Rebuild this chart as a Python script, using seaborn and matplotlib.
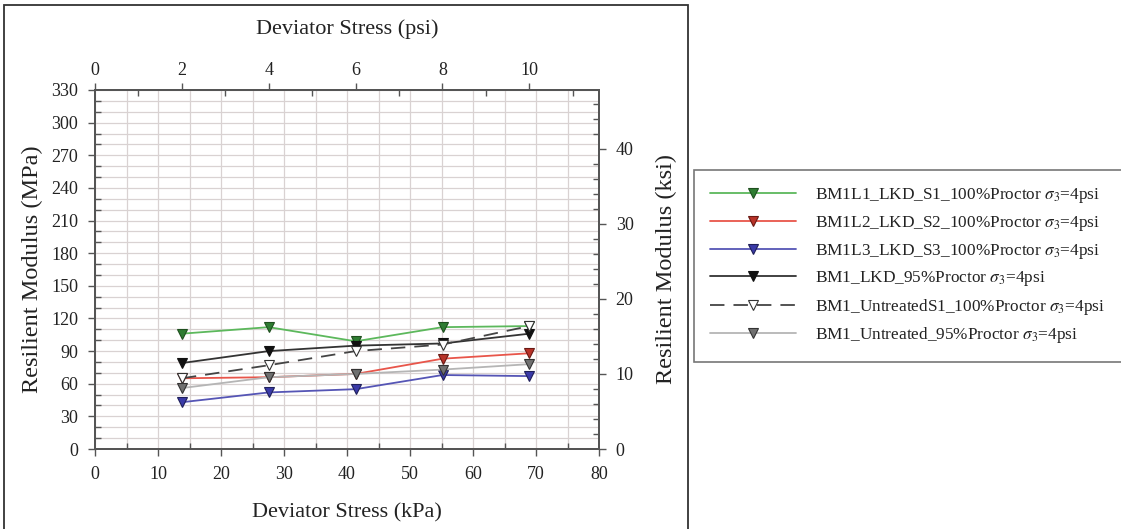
import numpy as np
import pandas as pd
import matplotlib
matplotlib.use("Agg")
import matplotlib.pyplot as plt
from matplotlib.patches import Rectangle
from matplotlib.ticker import MultipleLocator
import seaborn as sns

# ---- data ----
stress_kpa = [13.79, 27.58, 41.37, 55.16, 68.95]
s1_lkd_100 = [106, 112, 99, 112, 113]
s2_lkd_100 = [65, 66, 69, 83, 88]
s3_lkd_100 = [43, 52, 55, 68, 67]
lkd_95 = [79, 90, 95, 97, 106]
untreated_s1_100 = [65, 77, 90, 96, 113]
untreated_95 = [56, 66, 69, 73, 78]

labels = [
    r"BM1L1_LKD_S1_100%Proctor $\sigma_3$=4psi",
    r"BM1L2_LKD_S2_100%Proctor $\sigma_3$=4psi",
    r"BM1L3_LKD_S3_100%Proctor $\sigma_3$=4psi",
    r"BM1_LKD_95%Proctor $\sigma_3$=4psi",
    r"BM1_UntreatedS1_100%Proctor $\sigma_3$=4psi",
    r"BM1_Untreated_95%Proctor $\sigma_3$=4psi",
]
series = [s1_lkd_100, s2_lkd_100, s3_lkd_100, lkd_95, untreated_s1_100, untreated_95]

styles = [
    dict(color="#5cb85c", mfc="#2e7d32", mec="#1f4f1f", ls="-", lw=1.3),
    dict(color="#e8554a", mfc="#b83228", mec="#6a1a14", ls="-", lw=1.3),
    dict(color="#5555b5", mfc="#3a3aa8", mec="#20205a", ls="-", lw=1.3),
    dict(color="#333333", mfc="#111111", mec="#111111", ls="-", lw=1.3),
    dict(color="#444444", mfc="white", mec="#333333", ls=(0, (8, 5)), lw=1.3),
    dict(color="#b5b5b5", mfc="#707070", mec="#333333", ls="-", lw=1.3),
]

sns.set_style("white")
plt.rcParams["font.family"] = ["Liberation Serif", "DejaVu Serif"]
plt.rcParams["mathtext.fontset"] = "stix"

fig = plt.figure(figsize=(11.21, 5.29), dpi=100)
ax = fig.add_axes([95 / 1121, 1 - 449 / 529, 504 / 1121, 359 / 529])

handles = []
for lab, vals, st in zip(labels, series, styles):
    df = pd.DataFrame({"x": stress_kpa, "y": vals})
    sns.lineplot(data=df, x="x", y="y", ax=ax, color=st["color"], lw=st["lw"],
                 linestyle=st["ls"], marker="v", markersize=7,
                 markerfacecolor=st["mfc"], markeredgecolor=st["mec"],
                 markeredgewidth=0.8, label=lab, legend=False)
    handles.append(ax.lines[-1])

spine_c = "#555555"
txt_c = "#222222"
tick_fs = 13
ax.set_xlim(0, 80)
ax.set_ylim(0, 330)
ax.xaxis.set_major_locator(MultipleLocator(10))
ax.xaxis.set_minor_locator(MultipleLocator(5))
ax.yaxis.set_major_locator(MultipleLocator(30))
ax.yaxis.set_minor_locator(MultipleLocator(10))
ax.grid(which="both", color="#d9d2d2", lw=0.9)
ax.set_axisbelow(True)
ax.tick_params(which="major", direction="out", length=5, width=1, color=spine_c,
               labelsize=tick_fs, pad=7, labelcolor=txt_c)
ax.tick_params(which="minor", direction="in", length=4, width=1, color=spine_c)
for s in ax.spines.values():
    s.set_color(spine_c)
    s.set_linewidth(1.2)
ax.set_xlabel("Deviator Stress (kPa)", fontsize=16, labelpad=15, color=txt_c)
ax.set_ylabel("Resilient Modulus (MPa)", fontsize=17.5, labelpad=6, color=txt_c)

conv = 6.894757
axr = ax.twinx()
axr.set_ylim(0, 330 / conv)
axr.yaxis.set_major_locator(MultipleLocator(10))
axr.yaxis.set_minor_locator(MultipleLocator(2))
axr.tick_params(which="major", direction="out", length=5, width=1, color=spine_c,
                labelsize=tick_fs, pad=7, labelcolor=txt_c)
axr.tick_params(which="minor", direction="in", length=4, width=1, color=spine_c)
axr.set_ylabel("Resilient Modulus (ksi)", fontsize=17.5, labelpad=16, color=txt_c)
for s in axr.spines.values():
    s.set_color(spine_c)
    s.set_linewidth(1.2)

axt = ax.twiny()
axt.set_xlim(0, 80 / conv)
axt.xaxis.set_major_locator(MultipleLocator(2))
axt.xaxis.set_minor_locator(MultipleLocator(1))
axt.tick_params(which="major", direction="out", length=5, width=1, color=spine_c,
                labelsize=tick_fs, pad=3, labelcolor=txt_c)
axt.tick_params(which="minor", direction="in", length=4, width=1, color=spine_c)
axt.set_xlabel("Deviator Stress (psi)", fontsize=16, labelpad=20, color=txt_c)
for s in axt.spines.values():
    s.set_color(spine_c)
    s.set_linewidth(1.2)

# border around chart area
fig.patches.append(Rectangle((4 / 1121, -0.01), 684 / 1121, 1 - 5 / 529 + 0.01,
                             transform=fig.transFigure, fill=False,
                             edgecolor="#333333", lw=1.3))

leg = fig.legend(handles, labels, loc="upper left",
                 bbox_to_anchor=(694 / 1121, 1 - 170 / 529),
                 frameon=True, fancybox=False, edgecolor="#555555",
                 fontsize=12.4, handlelength=5.0, handletextpad=1.1,
                 labelspacing=0.5, borderpad=0.95, borderaxespad=0)
leg.get_frame().set_linewidth(1.2)
for t in leg.get_texts():
    t.set_color(txt_c)

fig.savefig("out.png", dpi=100)
